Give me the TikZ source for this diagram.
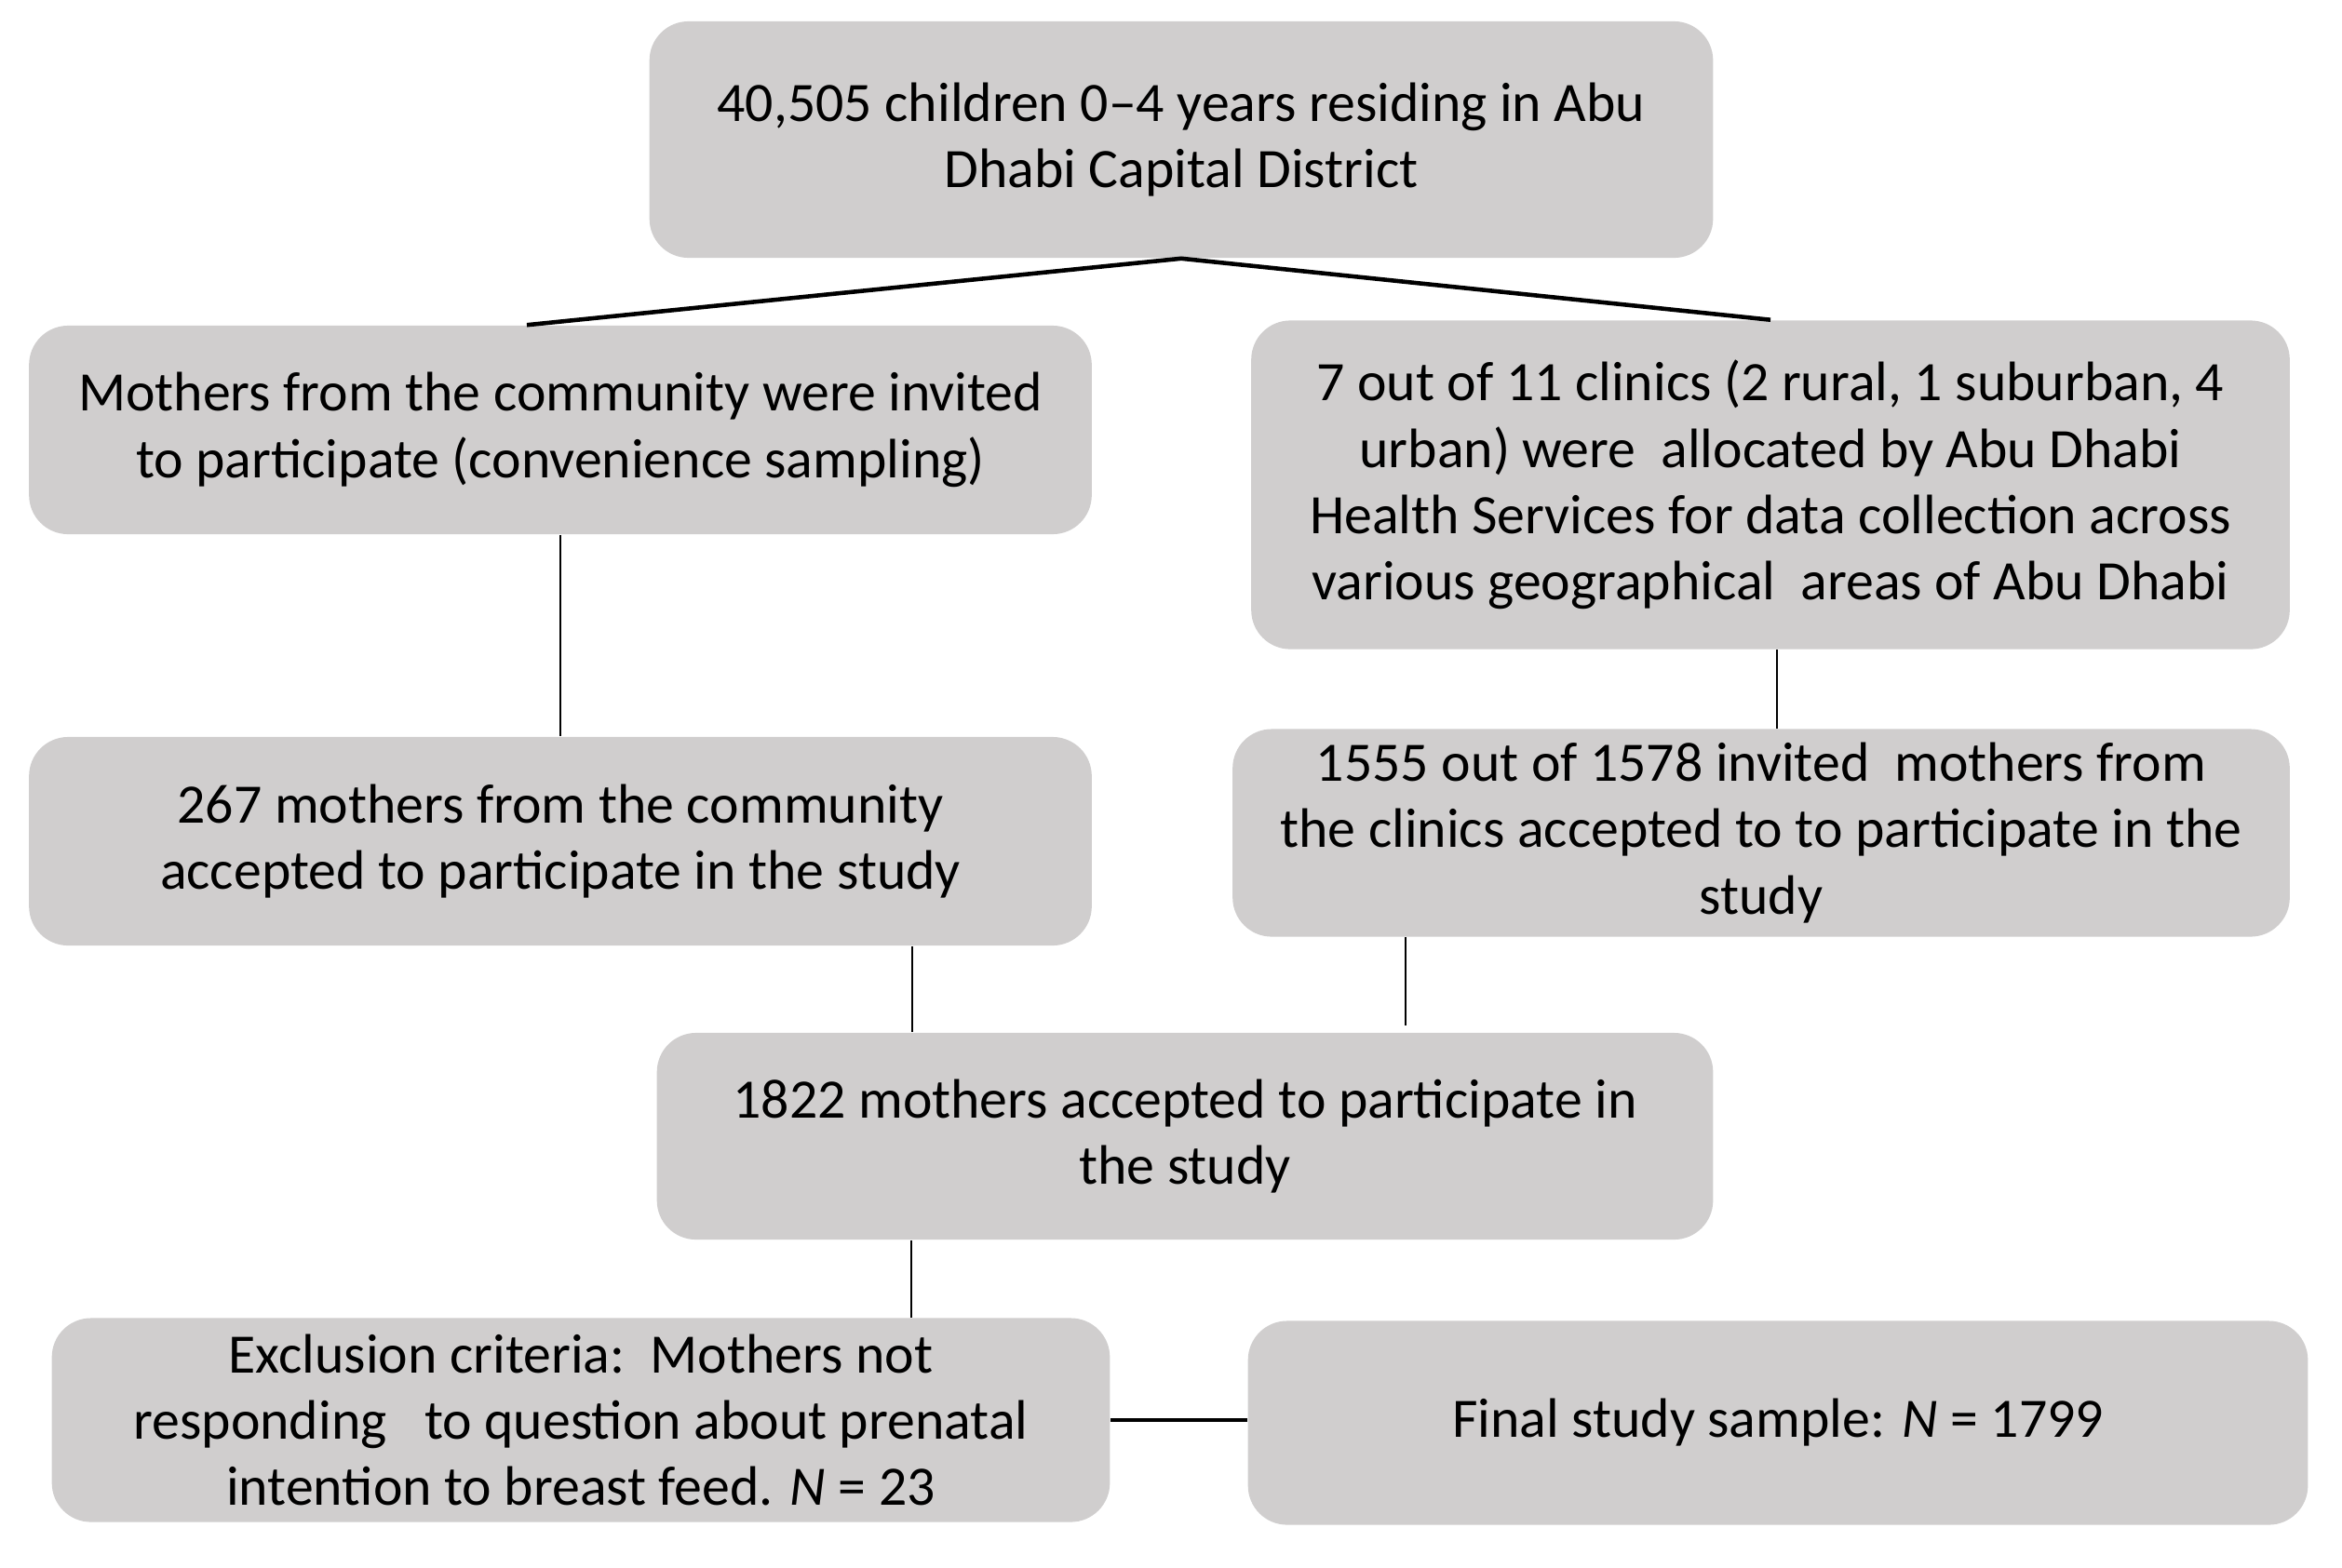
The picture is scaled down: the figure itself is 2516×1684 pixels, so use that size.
\documentclass[tikz,border=0pt]{standalone}
\usepackage{fontspec}
\setmainfont{Carlito}
\definecolor{boxgray}{RGB}{208,206,206}
\begin{document}
\begin{tikzpicture}[x=0.01cm,y=-0.01cm,
  flowbox/.style={fill=boxgray,rounded corners=0.42cm,align=center,inner sep=0pt,
    font=\fontsize{17}{20.3}\selectfont},
  link/.style={draw=black,line width=0.4pt},
  bold link/.style={draw=black,line width=1.3pt}]
\useasboundingbox (0,0) rectangle (2516,1684);
\node[flowbox,minimum width=11.42cm,minimum height=2.54cm] (pop) at (1269,150)
  {40,505 children 0--4 years residing in Abu\\Dhabi Capital District};
\node[flowbox,minimum width=11.41cm,minimum height=2.24cm] (comm) at (602,462)
  {Mothers from the community were invited\\to participate (convenience sampling)};
\node[flowbox,minimum width=11.15cm,minimum height=3.53cm] (clin) at (1902,521)
  {7 out of 11 clinics (2 rural, 1 suburban, 4\\urban) were\ \ allocated by Abu Dhabi\\Health Services for data collection across\\various geographical\ \ areas of Abu Dhabi};
\node[flowbox,minimum width=11.41cm,minimum height=2.24cm] (commok) at (602,904)
  {267 mothers from the community\\accepted to participate in the study};
\node[flowbox,minimum width=11.35cm,minimum height=2.23cm] (clinok) at (1892,895)
  {1555 out of 1578 invited\ \ mothers from\\the clinics accepted to to participate in the\\study};
\node[flowbox,minimum width=11.34cm,minimum height=2.22cm] (total) at (1273,1221)
  {1822 mothers accepted to participate in\\the study};
\node[flowbox,minimum width=11.36cm,minimum height=2.19cm] (excl) at (624,1526)
  {Exclusion criteria:\ \ Mothers not\\responding\ \ \ to question about prenatal\\intention to breast feed. \textit{N} = 23};
\node[flowbox,minimum width=11.38cm,minimum height=2.19cm] (final) at (1910,1529)
  {Final study sample: \textit{N} = 1799};
\draw[bold link] ([xshift=-0.36cm]comm.north) -- (pop.south) -- (clin.north);
\draw[link] (comm.south) -- (commok.north);
\draw[link] (1909,0 |- clin.south) -- (1909,0 |- clinok.north);
\draw[link] (980,0 |- commok.south) -- (980,0 |- total.north);
\draw[link] (1510,0 |- clinok.south) -- (1510,1102);
\draw[link] (979,0 |- total.south) -- (979,0 |- excl.north);
\draw[bold link] (excl.east) -- (excl.east -| final.west);
\end{tikzpicture}
\end{document}
